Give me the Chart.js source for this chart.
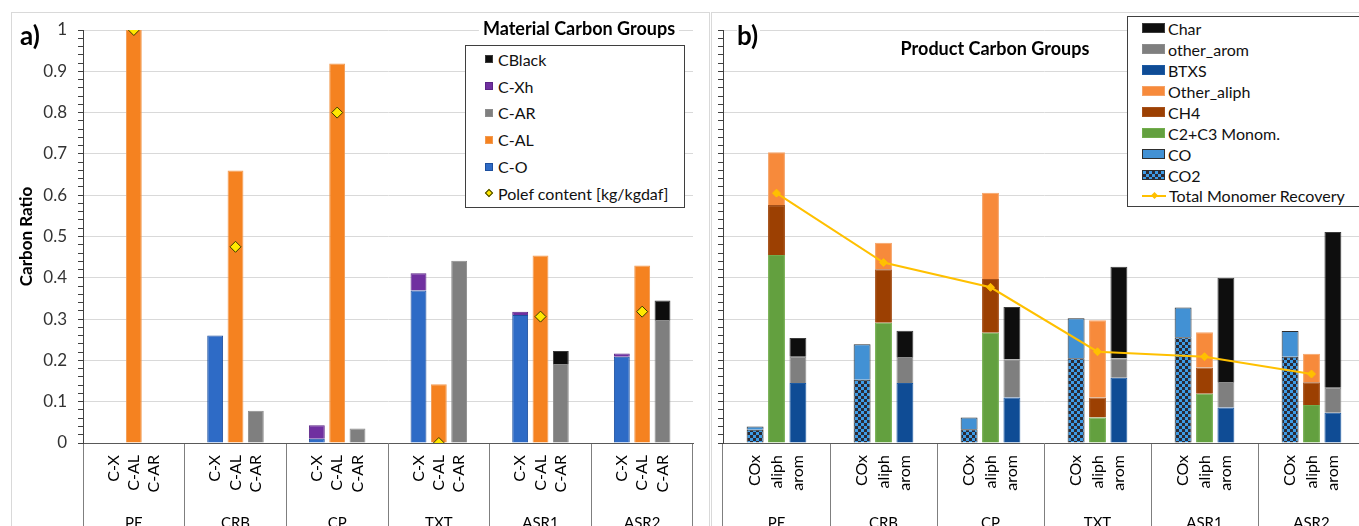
<!DOCTYPE html>
<html>
<head>
<meta charset="utf-8">
<title>Material and Product Carbon Groups</title>
<script src="https://cdn.jsdelivr.net/npm/chart.js"></script>
<style>
  html, body { margin:0; padding:0; background:#fff; }
  body { width:1359px; height:526px; overflow:hidden; position:relative; font-family: Lato, 'DejaVu Sans', sans-serif; }
  .frame { position:absolute; border:1px solid #d9d9d9; box-sizing:border-box; }
  .wrap { position:absolute; }
  .tag { position:absolute; font-weight:700; font-size:26px; line-height:1; color:#000; background:#fff; padding-right:2px; }
  .ptitle { position:absolute; font-weight:700; font-size:18px; line-height:1; color:#000; white-space:nowrap; transform:translateX(-50%); }
  .legend { position:absolute; background:#fff; border:1px solid #3f3f3f; box-sizing:border-box; }
  .item { display:flex; align-items:center; white-space:nowrap; color:#111; }
  .sw { display:inline-block; box-sizing:border-box; flex:none; position:relative; }
</style>
</head>
<body>
<div class="frame" style="left:11px;top:12px;width:699px;height:560px"></div>
<div class="frame" style="left:711px;top:12px;width:700px;height:560px"></div>
<div class="wrap" style="left:0;top:0;width:710px;height:560px"><canvas id="ca"></canvas></div>
<div class="wrap" style="left:711px;top:0;width:670px;height:560px"><canvas id="cb"></canvas></div>
<div class="tag" style="left:20px;top:22px">a)</div>
<div class="tag" style="left:737px;top:22px">b)</div>
<div class="ptitle" style="left:579px;top:19px;background:#fff;padding:0 4px">Material Carbon Groups</div>
<div class="ptitle" style="left:995px;top:39px">Product Carbon Groups</div>
<div class="legend" id="la" style="left:465px;top:45px;width:220px;height:163px;padding-left:19px;padding-top:0"></div>
<div class="legend" id="lb" style="left:1127px;top:16px;width:250px;height:191px;padding-left:14px;padding-top:1px"></div>

<script>
// ---------- categories / tick labels ----------
const groups      = ['PE', 'CRB', 'CP', 'TXT', 'ASR1', 'ASR2'];
const subLabelsA  = ['C-X', 'C-AL', 'C-AR'];
const subLabelsB  = ['COx', 'aliph', 'arom'];

// ---------- a) Material Carbon Groups ----------
const cO           = [0.000, 0.260, 0.010, 0.369, 0.310, 0.209];
const cXh          = [0.000, 0.000, 0.033, 0.042, 0.008, 0.008];
const cAL          = [1.000, 0.660, 0.919, 0.142, 0.454, 0.430];
const cAR          = [0.000, 0.078, 0.035, 0.441, 0.191, 0.298];
const cBlack       = [0.000, 0.000, 0.000, 0.000, 0.032, 0.047];
const polefContent = [1.000, 0.475, 0.800, 0.000, 0.306, 0.318];

// ---------- b) Product Carbon Groups ----------
const co2          = [0.032, 0.153, 0.033, 0.205, 0.256, 0.209];
const co           = [0.008, 0.086, 0.029, 0.097, 0.072, 0.062];
const c2c3Monom    = [0.455, 0.291, 0.267, 0.062, 0.119, 0.092];
const ch4          = [0.121, 0.130, 0.130, 0.048, 0.064, 0.055];
const otherAliph   = [0.128, 0.064, 0.209, 0.187, 0.085, 0.069];
const btxs         = [0.145, 0.145, 0.110, 0.158, 0.086, 0.073];
const otherArom    = [0.064, 0.063, 0.093, 0.047, 0.062, 0.061];
const charC        = [0.045, 0.064, 0.126, 0.222, 0.252, 0.377];
const totalMonomer = [0.605, 0.437, 0.377, 0.221, 0.209, 0.167];

// ---------- styles ----------
const FONT = "Lato, 'DejaVu Sans', sans-serif";
Chart.defaults.font.family = FONT;
Chart.defaults.color = '#000';

const COL = {
  cO:     ['#2e6bc6', '#1d4f9e'],
  cXh:    ['#7030a0', '#5b2486'],
  cAL:    ['#f58220', '#f29a50'],
  cAR:    ['#7f7f7f', '#8c8c8c'],
  cBlack: ['#0d0d0d', '#3a3a3a'],
  polef:  ['#ffe800', '#3a3a00'],
  co2:    ['#3d9be6', '#2b2b36'],
  co:     ['#4291d4', '#2e2e2e'],
  c2c3:   ['#63a03f', '#72ad4c'],
  ch4:    ['#9c4002', '#a5501a'],
  oal:    ['#f78a3b', '#f5a266'],
  btxs:   ['#0f4c95', '#1c5aa3'],
  oar:    ['#7f7f7f', '#8c8c8c'],
  chr:    ['#0e0e0e', '#3b3b3b'],
  tmr:    ['#ffc000', '#ffc000']
};

function slotLabels(sub) {
  const out = [];
  groups.forEach(() => { out.push('', ...sub, ''); });
  return out;
}
const isMajor = v => Math.abs(v * 10 - Math.round(v * 10)) < 1e-6;
const sepColor = ctx => (ctx.index === undefined || ctx.index % 5 === 0) ? '#7f7f7f' : 'rgba(0,0,0,0)';

function buildOptions(sub, cfg) {
  return {
    responsive: true,
    maintainAspectRatio: false,
    animation: false,
    events: [],
    layout: { padding: { left: 0, right: cfg.padRight, top: 30, bottom: 17 } },
    plugins: { legend: { display: false }, tooltip: { enabled: false }, title: { display: false } },
    datasets: { bar: { categoryPercentage: 0.6, barPercentage: cfg.barPct } },
    scales: {
      x: {
        type: 'category', position: 'bottom', weight: 1, offset: true,
        grid: { display: false }, border: { display: false },
        ticks: { font: { size: 15 }, color: '#000', maxRotation: 0, minRotation: 0, autoSkip: false, padding: 3 },
        afterFit: s => { s.height = 40; }
      },
      xs: {
        type: 'category', position: 'bottom', weight: 0, offset: true,
        labels: slotLabels(sub),
        grid: { display: true, offset: true, drawOnChartArea: false, drawTicks: true, tickLength: 100,
                color: sepColor, tickColor: sepColor, tickWidth: 1, lineWidth: 1 },
        border: { display: true, color: '#595959', width: 1 },
        ticks: { font: { size: 16 }, color: '#000', minRotation: 90, maxRotation: 90, autoSkip: false, padding: -88 },
        afterFit: s => { s.height = 60; }
      },
      y: {
        type: 'linear', position: 'left', min: 0, max: 1,
        ticks: {
          stepSize: 0.02, maxTicksLimit: 60, autoSkip: false, display: cfg.showY,
          font: { size: 17 }, color: '#333', padding: 11,
          callback: v => isMajor(v) ? String(+v.toFixed(1)) : ''
        },
        grid: {
          color: ctx => (ctx.tick && isMajor(ctx.tick.value)) ? '#d9d9d9' : 'rgba(0,0,0,0)',
          tickColor: '#404040', tickLength: 5, drawTicks: true, lineWidth: 1
        },
        border: { color: '#404040', width: 1 },
        title: { display: cfg.showY, text: 'Carbon Ratio', font: { size: 17, weight: 'bold' }, color: '#000',
                 padding: { top: 16, bottom: 0 } },
        afterFit: s => { s.width = cfg.yWidth; }
      }
    }
  };
}

function bar(label, data, stack, c, bg) {
  return { type: 'bar', label, data, stack, backgroundColor: bg || c[0], borderColor: c[1], borderWidth: 1 };
}

// ---------- chart a ----------
const dsA = [
  bar('C-O', cO, 'CX', COL.cO),
  bar('C-Xh', cXh, 'CX', COL.cXh),
  bar('C-AL', cAL, 'CAL', COL.cAL),
  bar('C-AR', cAR, 'CAR', COL.cAR),
  bar('CBlack', cBlack, 'CAR', COL.cBlack),
  { type: 'line', label: 'Polef content [kg/kgdaf]', data: polefContent, showLine: false, order: -1,
    pointStyle: 'rectRot', pointRadius: 5.5, pointBackgroundColor: COL.polef[0],
    pointBorderColor: COL.polef[1], pointBorderWidth: 1 }
];
new Chart(document.getElementById('ca'), {
  type: 'bar',
  data: { labels: groups, datasets: dsA },
  options: buildOptions(subLabelsA, { padRight: 17, yWidth: 83, showY: true, barPct: 0.78 })
});

// ---------- chart b ----------
const cbCanvas = document.getElementById('cb');
function checker(c1, c2, s) {
  const cv = document.createElement('canvas');
  cv.width = cv.height = 2 * s;
  const g = cv.getContext('2d');
  g.fillStyle = c1; g.fillRect(0, 0, 2 * s, 2 * s);
  g.fillStyle = c2; g.fillRect(0, 0, s, s); g.fillRect(s, s, s, s);
  return cbCanvas.getContext('2d').createPattern(cv, 'repeat');
}
const co2Pattern = checker(COL.co2[0], COL.co2[1], 3);
const dsB = [
  bar('CO2', co2, 'COx', ['#000', '#2e2e2e'], co2Pattern),
  bar('CO', co, 'COx', COL.co),
  bar('C2+C3 Monom.', c2c3Monom, 'aliph', COL.c2c3),
  bar('CH4', ch4, 'aliph', COL.ch4),
  bar('Other_aliph', otherAliph, 'aliph', COL.oal),
  bar('BTXS', btxs, 'arom', COL.btxs),
  bar('other_arom', otherArom, 'arom', COL.oar),
  bar('Char', charC, 'arom', COL.chr),
  { type: 'line', label: 'Total Monomer Recovery', data: totalMonomer, order: -1, tension: 0,
    borderColor: COL.tmr[0], borderWidth: 2, pointStyle: 'rectRot', pointRadius: 4,
    pointBackgroundColor: COL.tmr[0], pointBorderColor: COL.tmr[0], pointBorderWidth: 1 }
];
new Chart(cbCanvas, {
  type: 'bar',
  data: { labels: groups, datasets: dsB },
  options: buildOptions(subLabelsB, { padRight: 16, yWidth: 12, showY: false, barPct: 0.79 })
});

// ---------- HTML legends ----------
function makeLegend(el, items, rowH, fontSize, gap) {
  items.forEach(it => {
    const row = document.createElement('div');
    row.className = 'item';
    row.style.height = rowH + 'px';
    row.style.fontSize = fontSize + 'px';
    const sw = document.createElement('span');
    sw.className = 'sw';
    if (it.kind === 'diamond') {
      sw.style.width = '8px'; sw.style.height = '8px';
      const d = document.createElement('span');
      d.style.cssText = 'position:absolute;left:1px;top:1px;width:6px;height:6px;box-sizing:border-box;transform:rotate(45deg);' +
        'background:' + it.c[0] + ';border:1px solid ' + it.c[1];
      sw.appendChild(d);
    } else if (it.kind === 'line') {
      sw.style.width = it.w + 'px'; sw.style.height = it.h + 'px';
      const l = document.createElement('span');
      l.style.cssText = 'position:absolute;left:0;right:0;top:' + (it.h / 2 - 1) + 'px;height:2px;background:' + it.c[0];
      const d = document.createElement('span');
      d.style.cssText = 'position:absolute;left:' + (it.w / 2 - 2.5) + 'px;top:' + (it.h / 2 - 2.5) + 'px;width:5px;height:5px;transform:rotate(45deg);background:' + it.c[0];
      sw.appendChild(l); sw.appendChild(d);
    } else {
      sw.style.width = it.w + 'px'; sw.style.height = it.h + 'px';
      sw.style.border = '1px solid ' + it.c[1];
      if (it.kind === 'checker') {
        sw.style.backgroundColor = COL.co2[0];
        sw.style.backgroundImage = 'conic-gradient(' + COL.co2[1] + ' 25%, ' + COL.co2[0] + ' 0 50%, ' + COL.co2[1] + ' 0 75%, ' + COL.co2[0] + ' 0)';
        sw.style.backgroundSize = '6px 6px';
      } else {
        sw.style.background = it.c[0];
      }
    }
    sw.style.marginRight = gap + 'px';
    row.appendChild(sw);
    const t = document.createElement('span');
    t.textContent = it.label;
    row.appendChild(t);
    el.appendChild(row);
  });
}

makeLegend(document.getElementById('la'), [
  { label: 'CBlack', c: COL.cBlack, w: 8, h: 8 },
  { label: 'C-Xh', c: COL.cXh, w: 8, h: 8 },
  { label: 'C-AR', c: COL.cAR, w: 8, h: 8 },
  { label: 'C-AL', c: COL.cAL, w: 8, h: 8 },
  { label: 'C-O', c: COL.cO, w: 8, h: 8 },
  { label: 'Polef content [kg/kgdaf]', c: COL.polef, kind: 'diamond' }
], 26.8, 16, 5);

makeLegend(document.getElementById('lb'), [
  { label: 'Char', c: COL.chr, w: 23, h: 10 },
  { label: 'other_arom', c: COL.oar, w: 23, h: 10 },
  { label: 'BTXS', c: COL.btxs, w: 23, h: 10 },
  { label: 'Other_aliph', c: COL.oal, w: 23, h: 10 },
  { label: 'CH4', c: COL.ch4, w: 23, h: 10 },
  { label: 'C2+C3 Monom.', c: COL.c2c3, w: 23, h: 10 },
  { label: 'CO', c: ['#4291d4', '#2e2e2e'], w: 23, h: 10 },
  { label: 'CO2', c: ['#000', '#2e2e2e'], w: 23, h: 10, kind: 'checker' },
  { label: 'Total Monomer Recovery', c: COL.tmr, w: 24, h: 10, kind: 'line' }
], 20.95, 16, 3);
</script>
</body>
</html>
